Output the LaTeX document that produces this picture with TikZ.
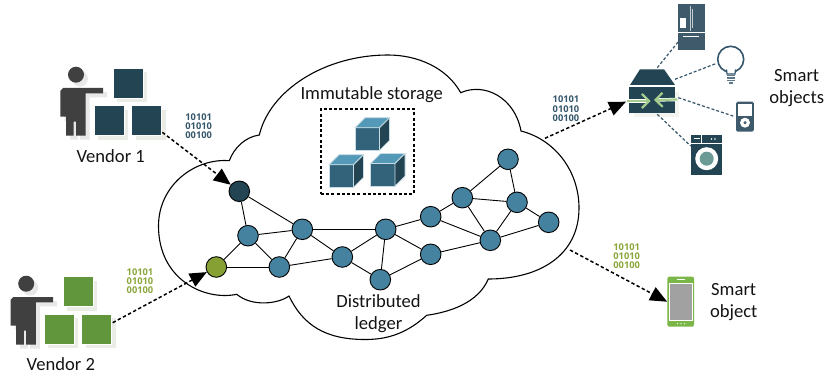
\documentclass[tikz,border=0pt]{standalone}
\usepackage{fontspec}
\setmainfont{Carlito}
\newfontfamily\bitsfont{Open Sans}
\usetikzlibrary{arrows.meta}
\definecolor{darkteal}{HTML}{234452}
\definecolor{slateblue}{HTML}{3F5A6B}
\definecolor{bitblue}{HTML}{34566B}
\definecolor{netblue}{HTML}{44829F}
\definecolor{oliveg}{HTML}{86A034}
\definecolor{vendorg}{HTML}{62963C}
\definecolor{bitgreen}{HTML}{8AA63A}
\definecolor{persongray}{HTML}{404040}
\definecolor{paleshadow}{HTML}{E9EDE6}
\definecolor{cubetop}{HTML}{5599B8}
\definecolor{cubefront}{HTML}{33637A}
\definecolor{cubeedge}{HTML}{C8DCE4}
\definecolor{hubarrow}{HTML}{A4CC8C}
\definecolor{phonegreen}{HTML}{7AB648}
\definecolor{washerinner}{HTML}{6C9A94}
\tikzset{
  netnode/.style={circle,draw=black,line width=0.9pt,minimum size=20.6pt,inner sep=0pt,fill=netblue},
  netedge/.style={line width=0.9pt,black},
  label text/.style={font=\fontsize{18.6}{22}\selectfont,text=black!92,align=center,inner sep=0pt},
  bits/.style={font=\bitsfont\bfseries\fontsize{9.3}{9.3}\selectfont,align=center,inner sep=0pt},
  flow/.style={line width=1.5pt,dash pattern=on 3.4pt off 2.4pt,-{Triangle[length=17pt,width=14.5pt]}},
  iconlink/.style={line width=1.2pt,bitblue,dash pattern=on 3pt off 2pt},
  crate/.style={minimum size=30pt,inner sep=0pt,draw=white,line width=0.5pt},
  crateshadow/.style={minimum size=30pt,inner sep=0pt,fill=paleshadow},
  cube edge/.style={draw=cubeedge,line width=0.8pt,line join=round},
}
\newcommand{\vendorshape}[1]{%
  \begin{scope}[shift={(#1,0)}]
    \begin{scope}[shift={(4,4)}]
      \fill[persongray!12] (76,74.7) circle (8);
      \fill[persongray!12] (63,88) -- (103,88) -- (103,93.3) -- (85.7,93.3) -- (85.7,135.7) -- (76,135.7) -- (76,121.7) -- (73.7,121.7) -- (73.7,135.7) -- (66,135.7) -- (66,116.7) -- (60.3,116.7) -- (60.3,91) -- cycle;
    \end{scope}
    \fill[persongray] (76,74.7) circle (8);
    \fill[persongray] (63,88) -- (103,88) -- (103,93.3) -- (85.7,93.3) -- (85.7,135.7) -- (76,135.7) -- (76,121.7) -- (73.7,121.7) -- (73.7,135.7) -- (66,135.7) -- (66,116.7) -- (60.3,116.7) -- (60.3,91) -- cycle;
  \end{scope}}
\newcommand{\cubeshape}[2]{%
  \begin{scope}[shift={(#1,#2)}]
    \fill[cubefront,cube edge] (0,0) rectangle (24.5,22.7);
    \fill[cubetop,cube edge] (0,0) -- (10,-10) -- (34.5,-10) -- (24.5,0) -- cycle;
    \fill[darkteal,cube edge] (24.5,0) -- (34.5,-10) -- (34.5,12.7) -- (24.5,22.7) -- cycle;
  \end{scope}}
\begin{document}
\begin{tikzpicture}[x=1pt,y=-1pt]
\useasboundingbox (0,0) rectangle (824,374);

% cloud
\draw[line width=1.1pt,line join=miter]
  (229.3,160.7) .. controls (234,148) and (245,137) .. (259.3,135)
  .. controls (270,90) and (325,55) .. (388,55)
  .. controls (418,55) and (447,68) .. (460.7,92.7)
  .. controls (485,82) and (515,98) .. (521,131)
  .. controls (556,140) and (579,172) .. (579,208)
  .. controls (579,255) and (540,279) .. (488.3,279)
  .. controls (478,303) and (450,312) .. (426.7,315.3)
  .. controls (405,335) and (385,339.5) .. (365,339.5)
  .. controls (325,339.5) and (303,325) .. (289,296)
  .. controls (278,304) and (252,307) .. (236.7,294.3)
  .. controls (205,301) and (158.5,280) .. (158.5,226)
  .. controls (158.5,185) and (195,158) .. (229.3,160.7);

% storage
\node[label text] (storagelabel) at (371.7,94.3) {Immutable storage};
\node[draw=black,line width=1.5pt,dash pattern=on 3pt off 2.2pt,minimum width=93pt,minimum height=85pt,inner sep=0pt] (storagebox) at (367.5,151.5) {};
\cubeshape{355}{127.7}
\cubeshape{329}{164.7}
\cubeshape{370.5}{163.5}

% network
\node[netnode,fill=darkteal] (dark) at (239.3,191.3) {};
\node[netnode,fill=oliveg] (olive) at (216.3,267) {};
\node[netnode] (n1) at (248,235.7) {};
\node[netnode] (n2) at (302.3,229.3) {};
\node[netnode] (n3) at (279.3,267) {};
\node[netnode] (n4) at (342.3,257) {};
\node[netnode] (n5) at (385.7,229.3) {};
\node[netnode] (n6) at (380.3,279.7) {};
\node[netnode] (n7) at (430.7,216.7) {};
\node[netnode] (n8) at (430.7,254.3) {};
\node[netnode] (n9) at (462.3,197.7) {};
\node[netnode] (n10) at (490.3,240.3) {};
\node[netnode] (n11) at (517,202.3) {};
\node[netnode] (n12) at (508,159.3) {};
\node[netnode] (n13) at (548.7,222.3) {};
\foreach \a/\b in {dark/n1,dark/n2,n1/n2,n1/n3,n1/olive,olive/n3,n2/n3,n2/n4,n2/n5,n3/n4,n4/n5,n4/n6,n5/n6,n5/n7,n5/n8,n6/n8,n7/n9,n7/n10,n8/n10,n9/n10,n9/n11,n9/n12,n12/n11,n11/n10,n11/n13,n10/n13}
  \draw[netedge] (\a) -- (\b);
\node[label text] (ledgerlabel) at (378.5,313.3) {Distributed\\ledger};

% vendor 1
\vendorshape{0}
\foreach \nm/\x/\y in {a/128/83.3,b/109.3/120.7,c/146.7/120.7} {
  \node[crateshadow] at (\x+4,\y+4) {};
  \node[crate,fill=darkteal] (v1\nm) at (\x,\y) {};
}
\node[label text] (v1label) at (110.7,155.7) {Vendor 1};
\node[bits,text=bitblue] (bits1) at (198.7,126) {10101\\01010\\00100};

% vendor 2
\begin{scope}[shift={(0,209)}]
\vendorshape{-49.8}
\end{scope}
\foreach \nm/\x/\y in {a/78/291.7,b/59.3/329,c/96.7/329} {
  \node[crateshadow] at (\x+4,\y+4) {};
  \node[crate,fill=vendorg] (v2\nm) at (\x,\y) {};
}
\node[label text] (v2label) at (60.8,364) {Vendor 2};
\node[bits,text=bitgreen] (bits2) at (140,281.3) {10101\\01010\\00100};

% hub
\fill[paleshadow!60] (634,92) rectangle (679,117);
\fill[darkteal] (630,85) -- (640,69.3) -- (664,69.3) -- (675,85) -- cycle;
\node[fill=darkteal,minimum width=45.7pt,minimum height=26pt,inner sep=0pt] (hub) at (652.2,100.3) {};
\draw[white,line width=3.4pt] (627,101) -- (647,101);
\draw[white,line width=3.4pt] (677.3,99.5) -- (657,100);
\draw[hubarrow,line width=2.2pt,-{Straight Barb[length=7pt,width=14pt,line width=2.2pt]}] (627,101) -- (650.5,101);
\draw[hubarrow,line width=2.2pt,-{Straight Barb[length=7pt,width=14pt,line width=2.2pt]}] (677.3,99.5) -- (654,100);
\coordinate (hubN) at (657.3,67.7);
\coordinate (hubNE) at (675,79.3);
\coordinate (hubE) at (678.3,97.7);
\coordinate (hubS) at (657.3,114.3);
\coordinate (hubW) at (626,101.7);

% fridge
\node[fill=slateblue,minimum width=26.4pt,minimum height=45.7pt,inner sep=0pt] (fridge) at (691.5,27.1) {};
\fill[white] (680,18.3) rectangle (686,28.3);
\draw[white,line width=0.6pt] (678.3,32.6) -- (704.7,32.6);
\draw[white,line width=0.6pt] (683.3,36) -- (699.3,36);
\draw[white!70!slateblue,line width=0.7pt] (690.2,6) -- (690.2,31);
\draw[white!70!slateblue,line width=0.5pt] (692.5,9) -- (692.5,28);
\coordinate (fridgeEnd) at (678.3,41.7);

% bulb
\node[circle,draw=bitblue,line width=1.6pt,fill=white,minimum size=26pt,inner sep=0pt] (bulb) at (730.7,59.3) {};
\fill[white] (727,68) rectangle (734.5,74);
\draw[bitblue,line width=1.2pt] (726.5,69.5) -- (727,74) -- (735,74) -- (735.5,69.5);
\foreach \yy in {75.5,78,80.5} \draw[bitblue!80,line width=1.1pt] (727,\yy) -- (735,\yy);
\draw[bitblue!80,line width=1.1pt] (729,83) -- (733,83);
\coordinate (bulbEnd) at (716.7,63.3);

% ipod
\node[fill=slateblue,rounded corners=1.5pt,minimum width=17.7pt,minimum height=30pt,inner sep=0pt] (ipod) at (744.9,116.7) {};
\fill[white] (738.3,103.7) rectangle (751.7,116);
\fill[white] (745,122.7) circle (5);
\fill[slateblue] (745,122.7) circle (1.7);
\coordinate (ipodEnd) at (735,116.7);

% washer
\node[fill=darkteal,minimum width=30.7pt,minimum height=40pt,inner sep=0pt] (washer) at (706.3,155) {};
\draw[white,line width=0.6pt] (691,143.3) -- (721.7,143.3);
\draw[white,line width=0.6pt] (701.5,135) -- (701.5,143.3);
\fill[white] (693.5,138) rectangle (699.5,139.5);
\fill[white] (711.5,139) circle (0.8) (715,139) circle (0.8);
\fill[white] (706.7,158.7) circle (11.5);
\fill[washerinner] (706.7,158.7) circle (7);
\coordinate (washerEnd) at (690.7,146);

\draw[iconlink] (hubN) -- (fridgeEnd);
\draw[iconlink] (hubNE) -- (bulbEnd);
\draw[iconlink] (hubE) -- (ipodEnd);
\draw[iconlink] (hubS) -- (washerEnd);
\node[label text] (smartobjects) at (796.7,88.3) {Smart\\objects};

% phone
\node[fill=phonegreen,rounded corners=2pt,minimum width=26.7pt,minimum height=50pt,inner sep=0pt] (phone) at (680.7,301.7) {};
\node[fill=black!37,draw=white,line width=0.6pt,minimum width=22.6pt,minimum height=37.4pt,inner sep=0pt] (phonescreen) at (681,302) {};
\draw[white,line width=0.8pt] (677.3,279.5) -- (685,279.5);
\foreach \xx in {677.5,681,684.5} \fill[white] (\xx,323.7) circle (0.7);
\node[label text] (smartobject) at (733.7,302.5) {Smart\\object};

% flows
\coordinate (v1out) at (162.3,132.3);
\coordinate (v2out) at (112.7,322.7);
\coordinate (cloudNE) at (545,138.3);
\coordinate (cloudSE) at (570,250);
\draw[flow] (v1out) -- (dark);
\draw[flow] (v2out) -- (olive);
\draw[flow] (cloudNE) -- (hubW);
\draw[flow] (cloudSE) -- (phone.west);
\node[bits,text=bitblue] (bits3) at (566,108.7) {10101\\01010\\00100};
\node[bits,text=bitgreen] (bits4) at (626.7,256.3) {10101\\01010\\00100};
\end{tikzpicture}
\end{document}
